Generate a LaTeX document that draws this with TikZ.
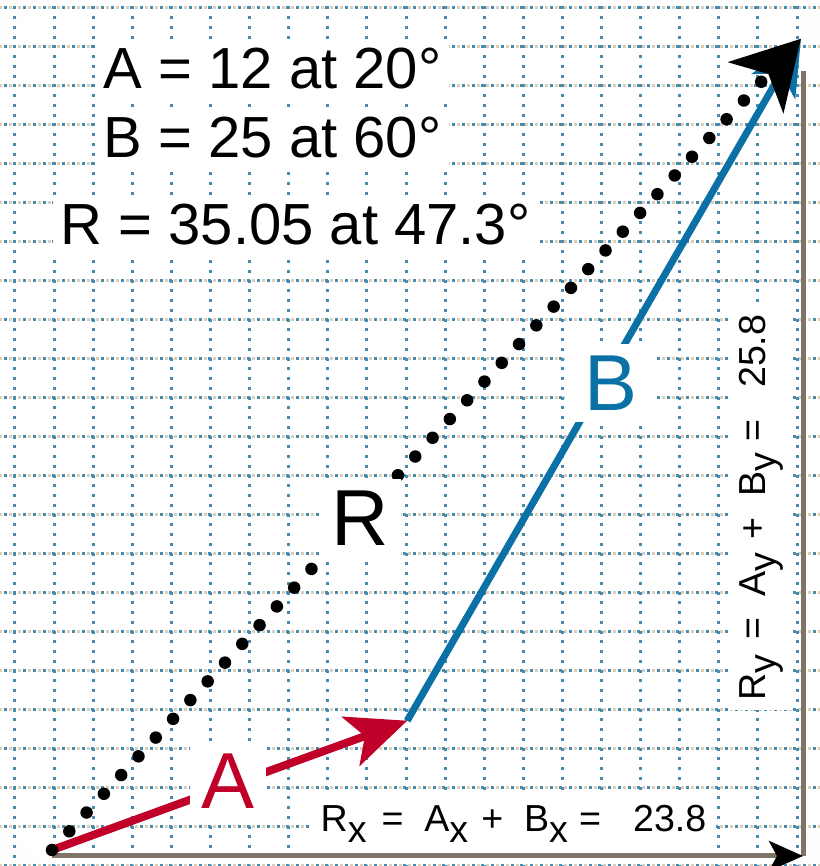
\documentclass[tikz,border=0pt]{standalone}
\usepackage{fontspec}
\setmainfont{Liberation Sans}
\usetikzlibrary{arrows.meta,calc,positioning}
\definecolor{vecred}{RGB}{192,0,40}
\definecolor{vecblue}{RGB}{10,112,165}
\definecolor{axbrown}{RGB}{128,115,104}
\definecolor{gridblue}{RGB}{70,140,175}
\definecolor{gridtan}{RGB}{218,205,185}
\definecolor{papertint}{RGB}{236,241,226}
\pgfdeclareradialshading{paper}{\pgfpoint{0bp}{0bp}}{color(0bp)=(white);
  color(32bp)=(white); color(72bp)=(papertint)}
\newcommand\eqfont{\fontsize{16.5pt}{20pt}\selectfont}
\newcommand\lblfont{\fontsize{22.6pt}{27pt}\selectfont}
\newcommand\compfont{\fontsize{10.7pt}{13pt}\selectfont}
\newcommand\lowsub[1]{\raisebox{-0.27em}{#1}}
\tikzset{
  >={Stealth[length=5.5mm,width=5mm,inset=1.5mm]},
  gridline/.style={line width=0.03cm,gridblue,
    dash pattern=on 0.03cm off 0.0675cm,dash phase=0.015cm},
  gridfill/.style={line width=0.03cm,gridtan,
    dash pattern=on 0.03cm off 0.0675cm,dash phase=0.06375cm},
  vecA/.style={-{Stealth[length=6mm,width=5.2mm,inset=1.5mm]},
    line width=0.08cm,vecred},
  vecB/.style={-{Stealth[length=5.5mm,width=5mm,inset=1.5mm]},
    line width=0.07cm,vecblue},
  vecR/.style={-{Stealth[length=6.6mm,width=7.4mm,inset=1.8mm,color=black]},
    line width=0.125cm,line cap=round,dash pattern=on 0pt off 0.255cm},
  comp/.style={line width=0.05cm,axbrown},
  vlbl/.style={font=\lblfont,fill=white,inner sep=0.12cm},
  eqlbl/.style={font=\eqfont,anchor=base west,fill=white,inner sep=0.08cm},
  complbl/.style={font=\compfont,anchor=base west,fill=white,inner sep=0.1cm},
}
\begin{document}
\begin{tikzpicture}
  \useasboundingbox (0,0) rectangle (8.2,8.66);
  \shade[shading=paper] (0,0) rectangle (8.2,8.66);
  % graph paper
  \begin{scope}
    \clip (0,0) rectangle (8.2,8.66);
    \foreach \j in {0,...,22} {
      \draw[gridfill] (-0.241,8.58-0.39*\j) -- ++(8.6,0);
      \draw[gridline] (-0.241,8.58-0.39*\j) -- ++(8.6,0);
    }
    \foreach \i in {0,...,20}
      \draw[gridline] (0.15+0.391*\i,8.97) -- ++(0,-9.2);
  \end{scope}

  \coordinate (O) at (0.52,0.16);
  \coordinate (P) at ($(O)+(20:3.78)$);
  \coordinate (Q) at ($(P)+(60:7.875)$);
  \coordinate (C) at (8.03,0.10);
  \coordinate (X0) at (O |- C);
  \coordinate (Y1) at (8.03,7.95);

  % components
  \draw[comp] (C) -- (Y1);
  \draw[comp,-{Stealth[length=3.4mm,width=3mm,inset=0.8mm,color=black]}] (X0) -- (C);

  % vectors
  \draw[vecA] (O) -- (P);
  \draw[vecB] (P) -- (Q);
  \draw[vecR] (O) -- (Q);

  \node[vlbl,text=vecred] (lblA) at (2.28,0.85) {A};
  \node[vlbl,text=vecblue,inner xsep=0.2cm] (lblB) at (6.11,4.83) {B};
  \node[vlbl] (lblR) at (3.60,3.48) {R};

  \node[eqlbl] (eqA) at (0.95,7.77) {A = 12 at 20°};
  \node[eqlbl] (eqB) at (0.95,7.08) {B = 25 at 60°};
  \node[eqlbl] (eqR) at (0.52,6.21) {R = 35.05 at 47.3°};

  \node[complbl] (lblRx) at (3.10,0.34)
    {R\lowsub{x}\hspace{0.4em}=\hspace{0.55em}A\lowsub{x}\hspace{0.35em}+\hspace{0.55em}B\lowsub{x}\hspace{0.3em}=\hspace{0.85em}23.8};
  \node[complbl,rotate=90] (lblRy) at (7.65,1.55)
    {R\lowsub{y}\hspace{0.4em}=\hspace{0.55em}A\lowsub{y}\hspace{0.35em}+\hspace{0.55em}B\lowsub{y}\hspace{0.3em}=\hspace{0.85em}25.8};
\end{tikzpicture}
\end{document}
